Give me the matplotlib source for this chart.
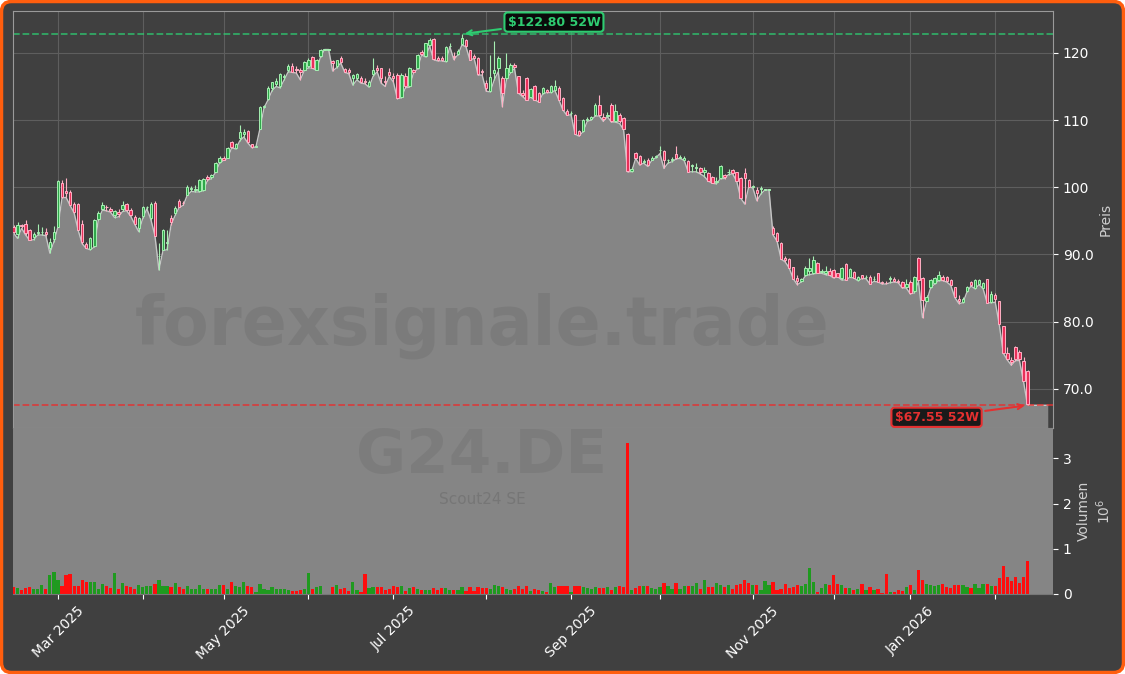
import matplotlib
matplotlib.use('Agg')
import matplotlib.pyplot as plt
import numpy as np
import pandas as pd
from matplotlib.patches import FancyBboxPatch

# Trading calendar (Xetra), one bar per trading day
holidays = ['2025-04-18', '2025-04-21', '2025-05-01', '2025-12-24', '2025-12-25',
            '2025-12-26', '2025-12-31', '2026-01-01']
dates = pd.bdate_range('2025-02-14', '2026-02-12', freq='C', holidays=holidays)

opens = [
    94.1, 93.1, 94.4, 94.5, 93.6, 92.6, 93.2, 93.3, 93.3, 90.9,
    92.3, 94.1, 100.6, 99.5, 99.3, 97.5, 97.5, 94.5, 91.6, 90.8,
    91.2, 95.3, 96.8, 97.1, 96.8, 95.8, 96.3, 96.8, 97.5, 96.6,
    95.6, 93.9, 95.7, 97.0, 95.4, 97.6, 89.7, 90.7, 91.7, 95.5,
    96.1, 97.9, 97.7, 98.9, 99.8, 99.6, 99.4, 99.6, 101.6, 101.5,
    102.3, 103.8, 104.4, 104.4, 106.7, 105.8, 107.3, 108.0, 108.4, 106.4,
    106.0, 108.7, 112.0, 113.2, 114.8, 115.3, 115.0, 116.4, 117.4, 118.0,
    117.6, 117.4, 117.5, 118.0, 119.4, 117.5, 119.5, 120.5, 120.5, 118.8,
    118.0, 119.2, 117.6, 117.5, 116.2, 116.3, 116.3, 115.8, 115.0, 116.9,
    117.8, 117.7, 115.8, 117.2, 116.5, 116.7, 113.5, 116.5, 115.0, 117.4,
    117.7, 120.2, 119.5, 121.2, 122.1, 119.2, 119.3, 118.8, 121.0, 119.5,
    119.9, 121.3, 121.9, 120.4, 119.6, 119.3, 117.3, 115.5, 114.3, 117.0,
    117.7, 116.2, 116.2, 117.2, 118.2, 116.5, 114.0, 116.2, 113.5, 115.0,
    114.0, 114.0, 114.5, 114.2, 114.5, 114.8, 113.3, 111.4, 111.0, 110.8,
    108.4, 108.4, 110.0, 110.2, 110.8, 112.3, 110.5, 110.6, 112.3, 109.8,
    110.8, 110.3, 108.0, 102.4, 105.1, 104.7, 103.8, 104.1, 104.1, 104.5,
    105.5, 105.4, 104.0, 104.0, 104.9, 104.4, 104.1, 103.9, 103.2, 102.8,
    102.9, 102.2, 102.1, 101.6, 100.8, 101.4, 101.8, 102.2, 102.6, 102.2,
    101.4, 102.1, 101.1, 100.1, 99.6, 99.8, 99.6, 99.6, 94.0, 93.2,
    91.7, 89.5, 89.3, 88.1, 86.5, 86.0, 87.0, 87.5, 87.2, 88.7,
    87.4, 87.2, 87.6, 87.7, 87.2, 86.5, 88.6, 86.7, 87.4, 86.2,
    86.9, 86.6, 86.7, 86.3, 87.2, 85.9, 85.8, 86.4, 86.3, 86.1,
    85.9, 85.2, 85.9, 84.5, 89.4, 86.5, 83.1, 85.2, 85.7, 86.2,
    86.7, 86.6, 86.2, 85.1, 83.4, 82.9, 84.5, 85.9, 85.0, 85.6,
    85.0, 86.3, 82.9, 84.0, 83.0, 79.3, 75.3, 74.3, 76.3, 75.5,
    74.1, 72.6,
]
highs = [
    94.4, 94.9, 94.6, 95.1, 93.8, 93.3, 94.6, 94.1, 93.9, 92.4,
    94.2, 101.1, 101.1, 101.4, 99.6, 97.8, 97.6, 95.1, 91.9, 92.6,
    95.3, 96.4, 97.8, 97.3, 97.0, 96.6, 96.8, 98.0, 97.7, 96.9,
    95.8, 95.6, 97.2, 97.2, 97.8, 98.0, 91.7, 93.8, 93.7, 95.8,
    97.2, 98.3, 98.0, 100.4, 100.2, 100.3, 101.3, 101.4, 101.8, 102.0,
    103.7, 104.6, 104.6, 106.0, 106.9, 106.6, 109.3, 108.6, 108.5, 106.5,
    106.3, 112.1, 112.3, 115.0, 115.7, 116.2, 117.0, 116.9, 118.4, 118.5,
    118.0, 117.8, 118.8, 119.3, 119.6, 119.1, 120.6, 120.5, 120.5, 119.0,
    119.0, 119.6, 117.8, 117.7, 116.9, 117.0, 116.5, 116.2, 115.9, 119.2,
    118.2, 117.8, 116.5, 117.7, 117.0, 117.0, 117.0, 117.0, 117.9, 117.6,
    119.9, 120.4, 121.5, 122.2, 122.2, 119.5, 119.5, 121.0, 121.4, 120.2,
    120.6, 122.8, 122.0, 120.5, 119.8, 119.4, 117.6, 116.0, 119.7, 121.7,
    119.5, 116.5, 120.0, 118.5, 118.5, 116.6, 114.5, 116.4, 114.8, 115.2,
    114.2, 114.9, 114.6, 115.2, 116.0, 115.0, 113.4, 111.6, 111.4, 110.9,
    108.5, 110.1, 110.4, 110.6, 112.5, 113.8, 111.0, 111.2, 112.5, 112.4,
    111.0, 110.5, 108.1, 103.0, 105.3, 104.8, 104.2, 104.3, 104.7, 104.8,
    106.1, 105.5, 104.2, 104.5, 106.1, 104.8, 104.6, 104.0, 103.4, 103.6,
    103.0, 103.0, 102.3, 101.7, 101.5, 103.3, 102.0, 102.7, 102.7, 102.3,
    101.5, 102.8, 101.2, 100.4, 100.0, 100.2, 99.8, 99.7, 94.2, 93.3,
    91.8, 89.8, 89.4, 88.2, 87.0, 86.5, 88.3, 89.5, 89.7, 88.9,
    87.8, 88.3, 88.0, 87.8, 87.3, 88.2, 88.7, 88.0, 87.5, 86.8,
    87.0, 87.0, 87.0, 86.8, 87.3, 86.1, 86.0, 86.8, 86.6, 86.3,
    86.0, 86.4, 86.2, 86.8, 89.6, 86.6, 84.0, 86.3, 86.6, 87.6,
    86.9, 86.8, 86.4, 85.2, 84.0, 83.6, 85.3, 86.1, 86.4, 86.4,
    85.9, 86.4, 84.5, 84.3, 83.1, 79.4, 76.3, 74.8, 76.4, 75.8,
    74.8, 72.8,
]
lows = [
    93.2, 92.4, 93.9, 92.9, 92.1, 92.2, 92.9, 92.9, 92.8, 90.2,
    91.9, 94.1, 98.4, 98.5, 97.3, 96.2, 93.6, 91.6, 90.9, 90.7,
    91.1, 95.2, 96.6, 96.5, 96.3, 95.5, 95.6, 96.4, 96.5, 95.7,
    94.5, 93.4, 95.4, 96.8, 95.2, 92.8, 87.7, 90.6, 90.7, 94.4,
    95.8, 97.0, 97.3, 98.8, 99.4, 99.3, 99.3, 99.5, 101.0, 101.3,
    102.2, 103.6, 104.0, 104.3, 105.9, 105.7, 106.9, 107.5, 106.6, 105.9,
    106.0, 108.7, 111.8, 113.0, 114.4, 115.0, 114.8, 116.0, 117.2, 117.1,
    117.0, 116.0, 117.4, 117.8, 117.7, 117.4, 119.4, 120.5, 120.5, 117.3,
    117.8, 118.5, 117.1, 116.9, 115.2, 116.0, 115.5, 115.4, 114.9, 116.5,
    117.2, 115.5, 115.0, 116.5, 115.7, 113.2, 113.3, 114.8, 114.9, 117.0,
    117.6, 119.7, 119.4, 121.0, 119.0, 118.8, 118.8, 118.7, 120.9, 119.0,
    119.7, 121.2, 120.9, 118.9, 119.2, 116.7, 116.7, 114.3, 114.2, 116.0,
    117.2, 112.0, 116.0, 117.0, 117.7, 114.0, 113.5, 113.0, 113.4, 113.0,
    112.7, 113.9, 114.1, 114.1, 114.4, 113.0, 111.5, 110.7, 110.8, 107.9,
    107.6, 108.3, 109.8, 110.0, 110.6, 110.6, 109.8, 110.5, 109.7, 109.7,
    109.5, 108.6, 102.3, 102.3, 104.3, 103.3, 103.6, 103.1, 104.0, 104.4,
    105.0, 102.8, 103.6, 103.8, 104.2, 104.3, 104.0, 102.3, 102.3, 102.3,
    102.0, 101.6, 100.9, 100.6, 100.5, 101.3, 101.3, 101.9, 102.0, 100.9,
    98.4, 97.5, 100.1, 99.9, 98.0, 99.0, 99.6, 99.6, 92.9, 92.0,
    89.3, 88.9, 88.0, 86.4, 85.5, 85.9, 86.8, 87.0, 87.1, 87.2,
    87.2, 87.0, 86.9, 86.5, 86.7, 86.2, 86.2, 86.6, 86.5, 86.1,
    86.4, 86.4, 85.6, 86.0, 85.9, 85.6, 85.6, 85.8, 85.9, 85.8,
    85.0, 85.0, 84.1, 84.3, 86.0, 80.6, 83.0, 85.0, 85.6, 86.1,
    86.1, 85.9, 85.4, 83.6, 82.7, 82.8, 84.4, 85.3, 84.9, 85.5,
    84.9, 82.8, 82.8, 82.9, 79.6, 75.3, 74.3, 73.5, 74.2, 74.2,
    71.1, 67.55,
]
closes = [
    93.3, 94.4, 94.3, 93.2, 92.2, 93.1, 93.3, 93.4, 93.1, 91.9,
    93.3, 100.9, 98.5, 99.1, 97.4, 96.3, 93.7, 91.8, 91.0, 92.4,
    95.2, 96.2, 97.4, 97.0, 96.5, 96.5, 96.0, 97.4, 96.6, 95.8,
    94.6, 95.4, 97.0, 97.0, 97.5, 92.8, 89.7, 93.7, 91.7, 94.8,
    96.9, 97.1, 97.6, 100.0, 99.8, 99.6, 101.1, 101.2, 101.2, 101.8,
    103.6, 104.3, 104.1, 105.9, 106.0, 106.5, 108.2, 108.3, 106.8, 106.0,
    106.1, 112.0, 112.0, 114.8, 115.6, 115.8, 116.8, 116.6, 118.1, 117.2,
    117.4, 117.2, 118.7, 119.0, 117.7, 119.0, 120.5, 120.5, 120.5, 118.5,
    118.9, 118.6, 117.2, 117.1, 116.7, 116.8, 115.6, 115.6, 115.7, 117.5,
    117.5, 116.2, 115.6, 116.7, 116.2, 113.3, 116.7, 115.0, 117.7, 117.2,
    119.7, 119.8, 121.4, 121.9, 119.1, 119.0, 118.9, 120.9, 121.1, 119.4,
    120.3, 122.2, 121.0, 119.0, 119.3, 116.8, 117.2, 114.8, 116.4, 117.5,
    119.2, 114.0, 117.7, 118.2, 117.9, 114.0, 113.8, 113.0, 114.7, 113.0,
    112.7, 114.8, 114.2, 115.0, 115.1, 113.0, 111.5, 110.7, 111.0, 107.9,
    107.8, 110.0, 110.2, 110.4, 112.3, 110.8, 110.2, 110.8, 109.8, 111.3,
    109.8, 108.7, 102.4, 102.7, 104.4, 103.4, 103.9, 103.3, 104.4, 104.6,
    105.6, 104.1, 104.0, 104.2, 104.3, 104.5, 104.4, 102.3, 103.2, 103.0,
    102.2, 102.6, 100.9, 100.6, 101.0, 103.1, 101.5, 102.2, 102.1, 100.9,
    98.4, 101.4, 100.1, 100.1, 99.1, 99.9, 99.6, 99.6, 93.0, 92.0,
    89.3, 89.2, 88.0, 86.4, 86.0, 86.3, 88.0, 88.0, 89.2, 87.2,
    87.5, 87.6, 87.0, 86.6, 86.7, 88.0, 86.2, 87.9, 86.5, 86.7,
    86.5, 86.6, 85.6, 86.4, 85.9, 85.8, 85.7, 86.4, 86.0, 85.9,
    85.1, 85.6, 84.2, 86.6, 86.2, 83.2, 83.6, 86.2, 86.5, 86.9,
    86.2, 86.0, 85.5, 83.6, 83.0, 83.4, 85.1, 85.4, 86.2, 86.2,
    85.7, 82.8, 84.1, 83.3, 79.6, 75.3, 74.5, 74.0, 74.4, 74.4,
    71.1, 67.7,
]
# volume in millions of shares
volumes = [
    0.15, 0.13, 0.08, 0.14, 0.16, 0.10, 0.12, 0.20, 0.10, 0.42,
    0.48, 0.32, 0.18, 0.42, 0.44, 0.18, 0.18, 0.30, 0.26, 0.26,
    0.26, 0.10, 0.22, 0.18, 0.14, 0.47, 0.10, 0.24, 0.18, 0.16,
    0.12, 0.20, 0.16, 0.18, 0.18, 0.22, 0.31, 0.18, 0.18, 0.15,
    0.25, 0.16, 0.10, 0.18, 0.12, 0.11, 0.20, 0.12, 0.12, 0.12,
    0.10, 0.20, 0.20, 0.11, 0.26, 0.18, 0.15, 0.26, 0.18, 0.16,
    0.05, 0.22, 0.10, 0.09, 0.16, 0.12, 0.10, 0.10, 0.09, 0.07,
    0.07, 0.09, 0.11, 0.47, 0.11, 0.15, 0.18, 0.00, 0.00, 0.15,
    0.20, 0.12, 0.13, 0.07, 0.27, 0.09, 0.05, 0.44, 0.14, 0.15,
    0.15, 0.15, 0.09, 0.10, 0.18, 0.16, 0.18, 0.07, 0.13, 0.16,
    0.11, 0.09, 0.09, 0.08, 0.13, 0.08, 0.13, 0.13, 0.08, 0.09,
    0.08, 0.15, 0.07, 0.15, 0.07, 0.15, 0.13, 0.13, 0.10, 0.20,
    0.18, 0.16, 0.10, 0.09, 0.10, 0.18, 0.10, 0.18, 0.07, 0.10,
    0.09, 0.07, 0.05, 0.24, 0.16, 0.18, 0.18, 0.18, 0.05, 0.18,
    0.18, 0.16, 0.13, 0.10, 0.15, 0.13, 0.13, 0.15, 0.09, 0.15,
    0.18, 0.16, 3.34, 0.08, 0.13, 0.18, 0.18, 0.18, 0.13, 0.10,
    0.16, 0.24, 0.18, 0.10, 0.24, 0.10, 0.18, 0.18, 0.18, 0.24,
    0.10, 0.31, 0.16, 0.16, 0.24, 0.20, 0.16, 0.20, 0.10, 0.20,
    0.22, 0.30, 0.25, 0.19, 0.19, 0.08, 0.29, 0.21, 0.26, 0.08,
    0.10, 0.22, 0.13, 0.16, 0.21, 0.18, 0.22, 0.57, 0.26, 0.05,
    0.13, 0.22, 0.20, 0.42, 0.22, 0.20, 0.13, 0.13, 0.08, 0.10,
    0.22, 0.08, 0.16, 0.08, 0.10, 0.03, 0.44, 0.05, 0.05, 0.09,
    0.07, 0.15, 0.20, 0.08, 0.54, 0.32, 0.22, 0.20, 0.18, 0.20,
    0.22, 0.15, 0.13, 0.20, 0.20, 0.20, 0.15, 0.13, 0.22, 0.13,
    0.22, 0.22, 0.18, 0.18, 0.35, 0.62, 0.38, 0.29, 0.38, 0.25,
    0.38, 0.72,
]

price_ticks = [70, 80, 90, 100, 110, 120]
price_tick_labels = ['70.0', '80.0', '90.0', '100', '110', '120']
volume_ticks = [0, 1, 2, 3]

ticker = 'G24.DE'
company = 'Scout24 SE'
watermark = 'forexsignale.trade'

BG = '#404040'
FILL = '#858585'
ORANGE = '#ff5e0e'
UP_FACE, UP_EDGE = '#2fa84a', '#a6efb2'
DOWN_FACE, DOWN_EDGE = '#e8305a', '#ffb0c4'
HI_COLOR = '#2ecc71'
LO_COLOR = '#e53030'


def draw_candles(ax, x, o, h, l, c):
    """Draw wick lines and bodies for up and down days."""
    up = c >= o
    for mask, face, edge in ((up, UP_FACE, UP_EDGE), (~up, DOWN_FACE, DOWN_EDGE)):
        ax.vlines(x[mask], l[mask], h[mask], color=edge, linewidth=0.8, zorder=3)
        bottom = np.minimum(o[mask], c[mask])
        height = np.maximum(np.abs(c[mask] - o[mask]), 0.1)
        ax.bar(x[mask], height, bottom=bottom, width=0.6, color=face,
               edgecolor=edge, linewidth=0.7, zorder=4)


if __name__ == '__main__':
    o = np.array(opens)
    h = np.array(highs)
    l = np.array(lows)
    c = np.array(closes)
    v = np.array(volumes)
    n = len(c)
    x = np.arange(n)

    fig = plt.figure(figsize=(11.25, 6.74), dpi=100, facecolor='white')
    frame = FancyBboxPatch((0.015, 0.015), 11.22, 6.71,
                           boxstyle='round,pad=0,rounding_size=0.1',
                           transform=fig.dpi_scale_trans, facecolor=BG,
                           edgecolor=ORANGE, linewidth=2.5, zorder=-10)
    fig.patches.append(frame)

    ax = fig.add_axes([0.0113, 0.365, 0.9247, 0.6187])
    axv = fig.add_axes([0.0113, 0.1187, 0.9247, 0.2463], sharex=ax)

    ymin, ymax = l.min() * 0.95, h.max() * 1.028

    # Area under the daily lows, extended a few bars past the last day
    xf = np.append(x, n + 4)
    lf = np.append(l, l[-1])
    ax.fill_between(xf, lf, ymin, color=FILL, linewidth=0, zorder=1)
    ax.plot(xf, lf, color='#c6c6c6', linewidth=1, zorder=2)

    draw_candles(ax, x, o, h, l, c)

    # 52 week high / low
    hi_idx, lo_idx = int(np.argmax(h)), int(np.argmin(l))
    hi, lo = h[hi_idx], l[lo_idx]
    ax.axhline(hi, color=HI_COLOR, linestyle='--', linewidth=1.3, alpha=0.75, zorder=2.5)
    ax.axhline(lo, color=LO_COLOR, linestyle='--', linewidth=1.3, alpha=0.8, zorder=2.5)
    ax.annotate('\\${:.2f} 52W'.format(hi), xy=(hi_idx, hi), xytext=(92, 12),
                textcoords='offset pixels', ha='center', va='center',
                fontsize=9, fontweight='bold', color=HI_COLOR, zorder=10,
                bbox=dict(boxstyle='round,pad=0.25', fc='#0b0b0b', ec=HI_COLOR, lw=1.5),
                arrowprops=dict(arrowstyle='->', color=HI_COLOR, lw=1.5))
    ax.annotate('\\${:.2f} 52W'.format(lo), xy=(lo_idx, lo), xytext=(-91, -12),
                textcoords='offset pixels', ha='center', va='center',
                fontsize=9, fontweight='bold', color=LO_COLOR, zorder=10,
                bbox=dict(boxstyle='round,pad=0.25', fc='#1a1a1a', ec=LO_COLOR, lw=1.5),
                arrowprops=dict(arrowstyle='->', color=LO_COLOR, lw=1.5))

    # Volume bars coloured by candle direction
    vol_colors = np.where(c >= o, '#1f9a1f', '#ff0d0d')
    axv.bar(x, v, width=0.8, color=vol_colors, zorder=2)

    # Month ticks on the first trading day of each month
    months = pd.Series(dates.to_period('M'))
    month_idx = [i for i in range(1, n) if months[i] != months[i - 1]]
    month_labels = [dates[i].strftime('%b %Y') if k % 2 == 0 else ''
                    for k, i in enumerate(month_idx)]

    ax.set_xlim(-0.2, n + 5.3)
    ax.set_ylim(ymin, ymax)
    axv.set_ylim(0, v.max() * 1.1)
    axv.set_xticks(month_idx)
    axv.set_xticklabels(month_labels, rotation=45)

    ax.set_facecolor(BG)
    axv.set_facecolor(FILL)
    ax.grid(True, color='#5e5e5e', linewidth=0.8)
    ax.set_axisbelow(True)

    for a in (ax, axv):
        a.yaxis.tick_right()
        a.yaxis.set_label_position('right')
        a.tick_params(colors='white', labelsize=10)
        for s in a.spines.values():
            s.set_color('#9a9a9a')
    ax.tick_params(axis='x', bottom=False, labelbottom=False)
    for s in ('top', 'left', 'right'):
        axv.spines[s].set_visible(False)
    axv.spines['bottom'].set_color('#777777')

    ax.set_yticks(price_ticks)
    ax.set_yticklabels(price_tick_labels)
    axv.set_yticks(volume_ticks)
    ax.set_ylabel('Preis', color='#cfcfcf', fontsize=10)
    axv.set_ylabel('Volumen\n$10^6$', color='#cfcfcf', fontsize=10)

    # Watermarks
    fig.text(0.4284, 0.516, watermark, fontsize=48, fontweight='bold',
             color='#5a5a5a', alpha=0.22, ha='center', va='center')
    fig.text(0.4284, 0.322, ticker, fontsize=44, fontweight='bold',
             color='#5a5a5a', alpha=0.2, ha='center', va='center')
    fig.text(0.4284, 0.259, company, fontsize=11,
             color='#5a5a5a', alpha=0.35, ha='center', va='center')

    fig.savefig('out.png', dpi=100, facecolor=fig.get_facecolor())
